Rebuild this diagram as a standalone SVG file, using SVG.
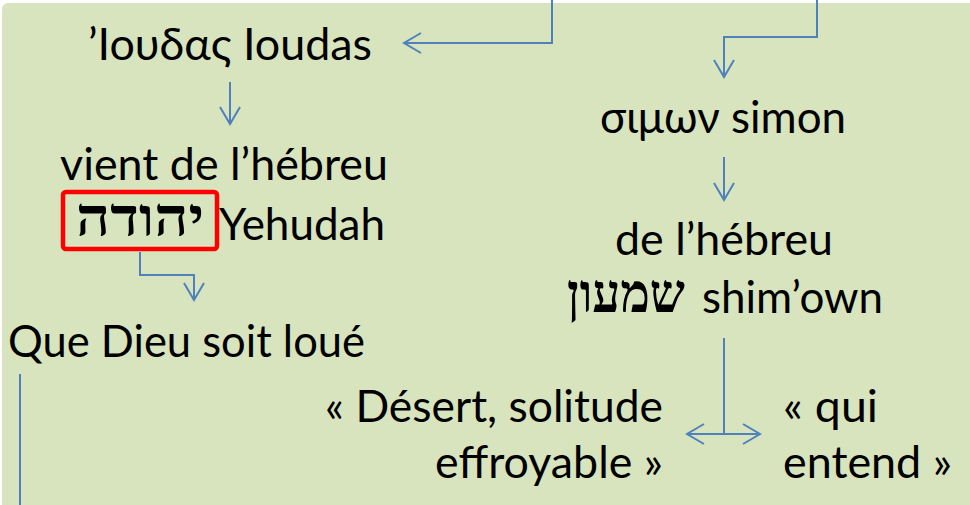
<svg xmlns="http://www.w3.org/2000/svg" width="970" height="505" viewBox="0 0 970 505">
  <style>
    .t { font-family: Lato, "Open Sans", "Noto Sans", sans-serif; font-size: 44px; fill: #000000; }
    .h { font-family: "Liberation Serif", "DejaVu Serif", serif; font-size: 54px; font-weight: bold; fill: #000000; }
    .c { fill: none; stroke: #4F81BD; stroke-width: 2; }
  </style>
  <defs>
    <marker id="arr" viewBox="-19 -11 21 22" refX="0" refY="0" markerWidth="21" markerHeight="22" markerUnits="userSpaceOnUse" orient="auto-start-reverse">
      <path d="M-17,-10 L0,0 L-17,10" fill="none" stroke="#4F81BD" stroke-width="2"/>
    </marker>
  </defs>
  <rect x="0" y="0" width="970" height="505" fill="#FFFFFF"/>
  <rect x="2" y="3" width="980" height="515" rx="6" ry="6" fill="#D7E4BD"/>

  <g id="connectors">
    <polyline class="c" points="552,0 552,43 404,43" marker-end="url(#arr)"/>
    <polyline class="c" points="817,0 817,37 724,37 724,77" marker-end="url(#arr)"/>
    <line class="c" x1="230" y1="82" x2="230" y2="124" marker-end="url(#arr)"/>
    <polyline class="c" points="140,252 140,275 194,275 194,300" marker-end="url(#arr)"/>
    <line class="c" x1="20" y1="374" x2="20" y2="510"/>
    <line class="c" x1="724" y1="157" x2="724" y2="200" marker-end="url(#arr)"/>
    <line class="c" x1="724" y1="338" x2="724" y2="434"/>
    <line class="c" x1="687" y1="434" x2="760" y2="434" marker-start="url(#arr)" marker-end="url(#arr)"/>
  </g>

  <g id="ioudas">
    <text class="t" x="88" y="60" textLength="284" lengthAdjust="spacingAndGlyphs">’Ιουδας Ioudas</text>
  </g>
  <g id="yehudah">
    <text class="t" x="60" y="180" textLength="328" lengthAdjust="spacingAndGlyphs">vient de l’hébreu</text>
    <rect x="63" y="192" width="154" height="57" rx="3" ry="3" fill="none" stroke="#FF0000" stroke-width="4.5"/>
    <text class="h" x="76" y="236" textLength="128" lengthAdjust="spacingAndGlyphs">יהודה</text>
    <text class="t" x="219" y="240" textLength="166" lengthAdjust="spacingAndGlyphs">Yehudah</text>
  </g>
  <g id="que-dieu">
    <text class="t" x="8" y="357" textLength="357" lengthAdjust="spacingAndGlyphs">Que Dieu soit loué</text>
  </g>
  <g id="simon">
    <text class="t" x="600" y="133" textLength="246" lengthAdjust="spacingAndGlyphs">σιμων simon</text>
  </g>
  <g id="shimown">
    <text class="t" x="615" y="255" textLength="218" lengthAdjust="spacingAndGlyphs">de l’hébreu</text>
    <text class="h" x="567" y="312" textLength="118" lengthAdjust="spacingAndGlyphs">שמעון</text>
    <text class="t" x="702" y="313" textLength="181" lengthAdjust="spacingAndGlyphs">shim’own</text>
  </g>
  <g id="desert">
    <text class="t" x="325" y="422" textLength="338" lengthAdjust="spacingAndGlyphs">« Désert, solitude</text>
    <text class="t" x="435" y="478" textLength="228" lengthAdjust="spacingAndGlyphs">effroyable »</text>
  </g>
  <g id="qui-entend">
    <text class="t" x="783" y="422" textLength="95" lengthAdjust="spacingAndGlyphs">« qui</text>
    <text class="t" x="783" y="478" textLength="169" lengthAdjust="spacingAndGlyphs">entend »</text>
  </g>
</svg>
